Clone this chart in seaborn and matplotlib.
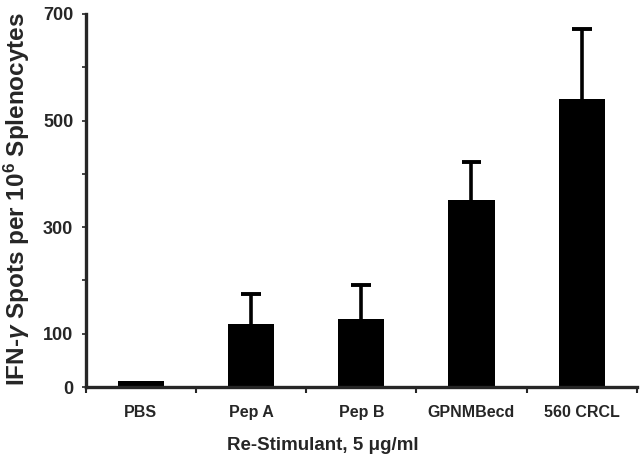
import numpy as np
import pandas as pd
import matplotlib
matplotlib.use('Agg')
import matplotlib.pyplot as plt
import seaborn as sns

# values
stimulants = ['PBS', 'Pep A', 'Pep B', 'GPNMBecd', '560 CRCL']
spots = [11, 118, 127, 350, 541]
spots_sd = [0, 56, 64, 73, 131]
y_ticks = [0, 100, 200, 300, 400, 500, 600, 700]
y_labels = ['0', '100', '', '300', '', '500', '', '700']

sns.set_style('ticks')
plt.rcParams['font.family'] = ['Liberation Sans', 'DejaVu Sans']
plt.rcParams['font.weight'] = 'bold'
plt.rcParams['mathtext.fontset'] = 'custom'
plt.rcParams['mathtext.rm'] = 'Liberation Sans:bold'
plt.rcParams['mathtext.bf'] = 'Liberation Sans:bold'
plt.rcParams['mathtext.it'] = 'Liberation Sans:italic:bold'

df = pd.DataFrame({'stim': stimulants, 'spots': spots, 'sd': spots_sd})

fig = plt.figure(figsize=(6.4, 4.66), dpi=100)
ax = fig.add_axes([0.134, 0.1695, 0.861, 0.8005])

sns.barplot(data=df, x='stim', y='spots', color='black', saturation=1,
            width=0.42, errorbar=None, ax=ax, zorder=2)
for p in ax.patches:
    p.set_edgecolor('none')

# upper error bars only (stem + cap)
xs = np.arange(len(stimulants))
has_err = df['sd'] > 0
top = df['spots'] + df['sd']
ax.vlines(xs[has_err], df['spots'][has_err], top[has_err], color='black',
          linewidth=2.6, zorder=1)
ax.hlines(top[has_err], xs[has_err] - 0.09, xs[has_err] + 0.09, color='black',
          linewidth=2.8, zorder=1)

ax.set_xlim(-0.5, len(stimulants) - 0.5)
ax.set_ylim(0, 700)
ax.set_yticks(y_ticks)
ax.set_yticklabels(y_labels, fontsize=13, fontweight='bold')

# major ticks at category boundaries, labels on minor ticks
ax.set_xticks(np.arange(len(stimulants) + 1) - 0.5)
ax.set_xticklabels([])
ax.set_xticks(xs, minor=True)
ax.set_xticklabels(stimulants, minor=True, fontsize=11.5, fontweight='bold')
ax.tick_params(axis='x', which='minor', length=0, pad=13)
ax.tick_params(axis='x', which='major', length=4, width=1.5, direction='out')
ax.tick_params(axis='y', length=3, width=1.2, pad=6)

sns.despine(ax=ax)
for side in ['left', 'bottom']:
    ax.spines[side].set_linewidth(2.4)

ax.set_xlabel('Re-Stimulant, 5 \u03bcg/ml', fontsize=13.5, fontweight='bold')
ax.xaxis.set_label_coords(0.43, -0.134)
ax.set_ylabel(r'IFN-$\gamma$ Spots per 10$^{6}$ Splenocytes', fontsize=17.5,
              fontweight='bold')
ax.yaxis.set_label_coords(-0.097, 0.505)

fig.savefig('out.png', dpi=100)
